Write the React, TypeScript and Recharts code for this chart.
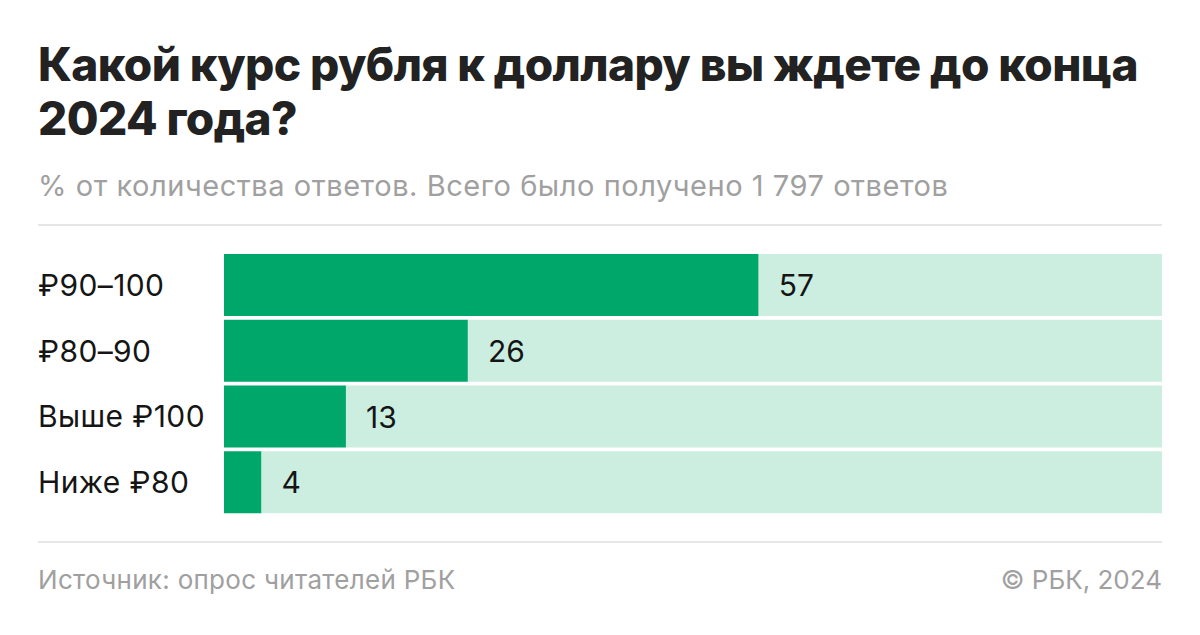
import { Bar, BarChart, LabelList, XAxis, YAxis } from "recharts";

const CATEGORIES = ["₽90–100", "₽80–90", "Выше ₽100", "Ниже ₽80"];
const SHARES = [57, 26, 13, 4];
const TOTAL = 100;

const DARK = "#00a76a";
const LIGHT = "#cceee0";
const FONT = "Inter, 'Noto Sans', sans-serif";

const rows = CATEGORIES.map((name, i) => ({
  name,
  share: SHARES[i],
  rest: TOTAL - SHARES[i],
}));

function CategoryTick(props: any) {
  const { y, payload } = props;
  return (
    <text x={38} y={y} dy={11} textAnchor="start" fontSize={30} fill="#151515" fontFamily={FONT} letterSpacing={0.4}>
      {payload.value}
    </text>
  );
}

function ShareLabel(props: any) {
  const { x, y, height, index } = props;
  return (
    <text x={x + 20} y={y + height / 2} dy={11} fontSize={30} fill="#151515" fontFamily={FONT}>
      {SHARES[index]}
    </text>
  );
}

const rule = { position: "absolute" as const, left: 38, width: 1124, height: 2, background: "#e6e6e6" };

export default function App() {
  return (
    <div style={{ position: "absolute", left: 0, top: 0, width: 1200, height: 635, background: "#fff", fontFamily: FONT }}>
      <div style={{ position: "absolute", left: 38, top: 37, width: 1150, fontSize: 46, fontWeight: 800, lineHeight: "54px", color: "#222", letterSpacing: -0.6 }}>
        Какой курс рубля к доллару вы ждете до конца 2024 года?
      </div>
      <div style={{ position: "absolute", left: 38, top: 168, fontSize: 29, lineHeight: "36px", color: "#a0a0a0", whiteSpace: "nowrap", letterSpacing: 0.55 }}>
        % от количества ответов. Всего было получено 1 797 ответов
      </div>
      <div style={{ ...rule, top: 224 }} />
      <div style={{ position: "absolute", left: 0, top: 0 }}>
        <BarChart
          width={1200}
          height={635}
          data={rows}
          layout="vertical"
          margin={{ top: 252, right: 38, bottom: 120, left: 38 }}
          barCategoryGap={2}
        >
          <XAxis type="number" domain={[0, TOTAL]} hide />
          <YAxis type="category" dataKey="name" width={186} axisLine={false} tickLine={false} tick={<CategoryTick />} />
          <Bar dataKey="share" stackId="a" fill={DARK} isAnimationActive={false} />
          <Bar dataKey="rest" stackId="a" fill={LIGHT} isAnimationActive={false}>
            <LabelList dataKey="rest" content={<ShareLabel />} />
          </Bar>
        </BarChart>
      </div>
      <div style={{ ...rule, top: 541 }} />
      <div style={{ position: "absolute", left: 38, top: 563, fontSize: 26, lineHeight: "34px", color: "#a0a0a0", letterSpacing: 0.3 }}>
        Источник: опрос читателей РБК
      </div>
      <div style={{ position: "absolute", right: 38, top: 563, fontSize: 26, lineHeight: "34px", color: "#a0a0a0" }}>
        © РБК, 2024
      </div>
    </div>
  );
}
